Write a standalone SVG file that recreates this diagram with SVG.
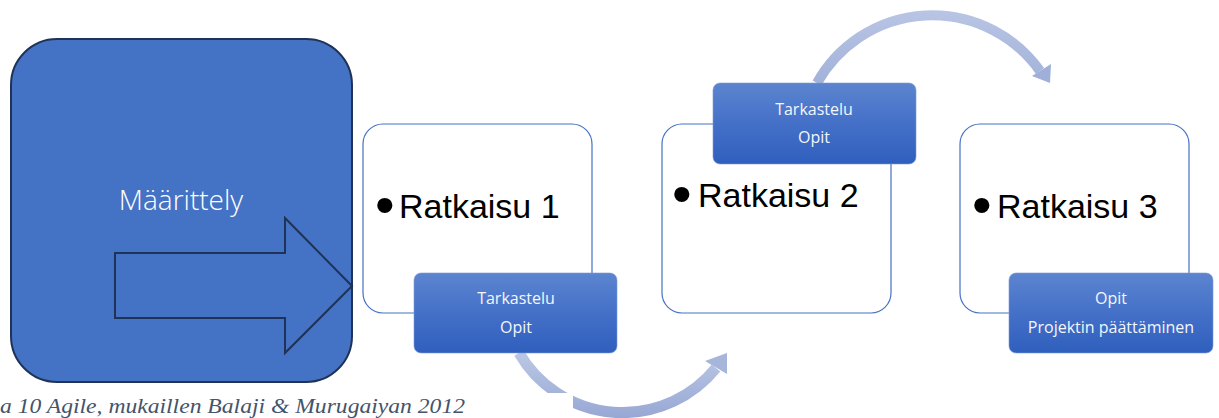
<svg xmlns="http://www.w3.org/2000/svg" width="1219" height="418" viewBox="0 0 1219 418">
  <defs>
    <linearGradient id="tagFill" x1="0" y1="0" x2="0" y2="1">
      <stop offset="0" stop-color="#5C84CF"/>
      <stop offset="0.5" stop-color="#4470C8"/>
      <stop offset="1" stop-color="#2F5FBD"/>
    </linearGradient>
    <linearGradient id="loopLow" gradientUnits="userSpaceOnUse" x1="0" y1="350" x2="0" y2="418">
      <stop offset="0" stop-color="#BCC8E5"/>
      <stop offset="1" stop-color="#97A8D4"/>
    </linearGradient>
    <linearGradient id="loopHigh" gradientUnits="userSpaceOnUse" x1="0" y1="10" x2="0" y2="90">
      <stop offset="0" stop-color="#B9C5E4"/>
      <stop offset="1" stop-color="#A0B0D8"/>
    </linearGradient>
    <style>
      .phase { fill: #ffffff; stroke: #4472C4; stroke-width: 1.2; }
      .tag { fill: url(#tagFill); stroke: #7E9BD6; stroke-width: 0.6; }
      .tagText { font-family: "Open Sans", "Noto Sans", sans-serif; font-size: 16px; fill: #F4F6FB; text-anchor: middle; }
      .item { font-family: "Liberation Sans", Arial, sans-serif; font-size: 34px; fill: #000000; }
      .dot { font-family: "Liberation Sans", Arial, sans-serif; font-size: 56px; fill: #000000; }
      .caption { font-family: "Liberation Serif", "Times New Roman", serif; font-style: italic; font-size: 20px; fill: #44546A; }
    </style>
  </defs>

  <!-- Loop arrows between the iterations -->
  <g id="connectors">
    <path d="M519,353 A120,120 0 0 0 716,368" fill="none" stroke="url(#loopLow)" stroke-width="11"/>
    <polygon points="727,353 705,361 727,374" fill="#A6B5DA"/>
    <path d="M817,83 A132,132 0 0 1 1040,71" fill="none" stroke="url(#loopHigh)" stroke-width="10"/>
    <polygon points="1050,83 1032,76 1051,64" fill="#9FAFD8"/>
  </g>

  <!-- Caption background clears the lower loop near the text -->
  <rect x="0" y="393" width="573" height="25" fill="#ffffff"/>
  <text class="caption" x="0" y="413" textLength="465" lengthAdjust="spacingAndGlyphs">a 10 Agile, mukaillen Balaji &amp; Murugaiyan 2012</text>

  <!-- Definition phase -->
  <g id="maarittely">
    <rect x="11" y="39" width="341" height="343" rx="46" ry="46" fill="#4472C4" stroke="#1F3257" stroke-width="2"/>
    <text x="181" y="210" font-family="'Open Sans', 'Noto Sans', sans-serif" font-weight="300" font-size="28" fill="#ffffff" text-anchor="middle">Määrittely</text>
    <path d="M115,253 H285 V218 L352,286 L285,353 V318 H115 Z" fill="none" stroke="#1F3257" stroke-width="2"/>
  </g>

  <!-- Iteration 1 -->
  <g id="ratkaisu1">
    <rect class="phase" x="363" y="124" width="229" height="189" rx="20" ry="20"/>
    <text class="dot" x="375" y="224">•</text>
    <text class="item" x="399" y="218">Ratkaisu 1</text>
  </g>
  <g id="tarkastelu1">
    <rect class="tag" x="414" y="273" width="203" height="80" rx="7" ry="7"/>
    <text class="tagText" x="516" y="304">Tarkastelu</text>
    <text class="tagText" x="516" y="333">Opit</text>
  </g>

  <!-- Iteration 2 -->
  <g id="ratkaisu2">
    <rect class="phase" x="662" y="124" width="229" height="189" rx="20" ry="20"/>
    <text class="dot" x="672" y="213">•</text>
    <text class="item" x="698" y="207">Ratkaisu 2</text>
  </g>
  <g id="tarkastelu2">
    <rect class="tag" x="713" y="83" width="203" height="81" rx="7" ry="7"/>
    <text class="tagText" x="814" y="115">Tarkastelu</text>
    <text class="tagText" x="814" y="143">Opit</text>
  </g>

  <!-- Iteration 3 -->
  <g id="ratkaisu3">
    <rect class="phase" x="960" y="124" width="229" height="189" rx="20" ry="20"/>
    <text class="dot" x="972" y="224">•</text>
    <text class="item" x="997" y="218">Ratkaisu 3</text>
  </g>
  <g id="paattaminen">
    <rect class="tag" x="1009" y="273" width="204" height="80" rx="7" ry="7"/>
    <text class="tagText" x="1111" y="304">Opit</text>
    <text class="tagText" x="1111" y="333">Projektin päättäminen</text>
  </g>
</svg>
